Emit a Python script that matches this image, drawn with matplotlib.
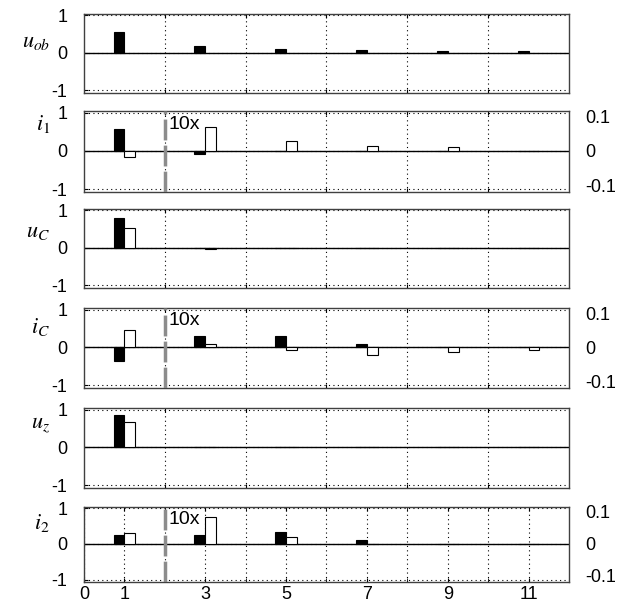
import numpy as np
import matplotlib.pyplot as plt

plt.rcParams['font.family'] = ['Liberation Sans', 'DejaVu Sans']
plt.rcParams['mathtext.fontset'] = 'stix'

# harmonic order
harmonics = np.array([1, 3, 5, 7, 9, 11])

# amplitudes (real values; higher harmonics of some panels are drawn 10x)
u_ob = [0.57, 0.19, 0.11, 0.08, 0.065, 0.05]

i1_a = [0.56, -0.009, 0.0, 0.0, 0.0, 0.0]
i1_b = [-0.15, 0.062, 0.025, 0.014, 0.009, 0.0]

uC_a = [0.80, 0.0, 0.0, 0.0, 0.0, 0.0]
uC_b = [0.54, -0.04, 0.0, 0.0, 0.0, 0.0]

iC_a = [-0.37, 0.029, 0.031, 0.010, 0.002, 0.0]
iC_b = [0.45, 0.008, -0.008, -0.020, -0.012, -0.007]

uz_a = [0.85, 0.0, 0.0, 0.0, 0.0, 0.0]
uz_b = [0.66, 0.0, 0.0, 0.0, 0.0, 0.0]

i2_a = [0.25, 0.025, 0.033, 0.012, 0.0, 0.0]
i2_b = [0.32, 0.075, 0.021, 0.001, 0.0, 0.0]

names = [r'$u_{ob}$', r'$i_1$', r'$u_C$', r'$i_C$', r'$u_z$', r'$i_2$']
blacks = [u_ob, i1_a, uC_a, iC_a, uz_a, i2_a]
whites = [None, i1_b, uC_b, iC_b, uz_b, i2_b]
zoomed = [False, True, False, True, False, True]

bottom_ticks = [0, 1, 3, 5, 7, 9, 11]

# layout (pixels)
label_y = [0.3, 0.7, 0.45, 0.55, 0.6, 0.6]
tops = [14, 111, 209, 308, 408, 507]
heights = [79, 81, 79, 80, 80, 75]
W, H = 618, 603
left_px, right_px = 84, 569
w = 0.27
ylo, yhi = -1.07, 1.04
dots = (0, (1, 3))

fig = plt.figure(figsize=(W / 100, H / 100), dpi=100)

for k in range(6):
    ax = fig.add_axes([left_px / W, 1 - (tops[k] + heights[k]) / H,
                       (right_px - left_px) / W, heights[k] / H])
    fac = np.where((harmonics > 2) & zoomed[k], 10, 1)

    ax.bar(harmonics - w / 2, np.array(blacks[k]) * fac, w,
           color='k', edgecolor='k', linewidth=0.8, zorder=3)
    if whites[k] is not None:
        ax.bar(harmonics + w / 2, np.array(whites[k]) * fac, w,
               color='w', edgecolor='k', linewidth=0.8, zorder=3)
    ax.axhline(0, color='k', lw=1, zorder=2)

    ax.set_xlim(0, 12)
    ax.set_ylim(ylo, yhi)
    ax.set_yticks([-1, 0, 1])
    ax.set_yticklabels(['-1', '0', '1'])
    if k == 5:
        ax.set_xticks(bottom_ticks)
        ax.set_xticklabels([str(t) for t in bottom_ticks])
        ax.set_xticks([2, 4, 6, 8, 10], minor=True)
        ax.grid(True, which='both', axis='x', ls=dots, color='k', lw=0.8)
    else:
        ax.set_xticks([2, 4, 6, 8, 10])
        ax.set_xticklabels([])
        ax.grid(True, axis='x', ls=dots, color='k', lw=0.8)
    ax.grid(True, axis='y', ls=dots, color='k', lw=0.8)
    ax.tick_params(axis='y', direction='in', length=3, pad=12, labelsize=13)
    ax.tick_params(axis='x', which='both', direction='in', length=3, pad=3,
                   labelsize=13, top=True)
    for s in ax.spines.values():
        s.set_color('0.25')
        s.set_linewidth(1)

    ax.text(-0.07, label_y[k], names[k], transform=ax.get_yaxis_transform(),
            ha='right', va='center', fontsize=16)

    if zoomed[k]:
        ax.axvline(2, color='0.55', lw=2.5, ls=(0, (6, 1.5)), zorder=4)
        ax.text(2.1, 0.7, '10x', fontsize=14, va='center', zorder=5)
        ax2 = ax.twinx()
        ax2.set_ylim(ylo / 9, yhi / 9)
        ax2.set_yticks([-0.1, 0, 0.1])
        ax2.set_yticklabels(['-0.1', '0', '0.1'])
        ax2.tick_params(axis='y', length=0, pad=12, labelsize=13)
        for s in ax2.spines.values():
            s.set_visible(False)

fig.savefig('out.png', dpi=100)
